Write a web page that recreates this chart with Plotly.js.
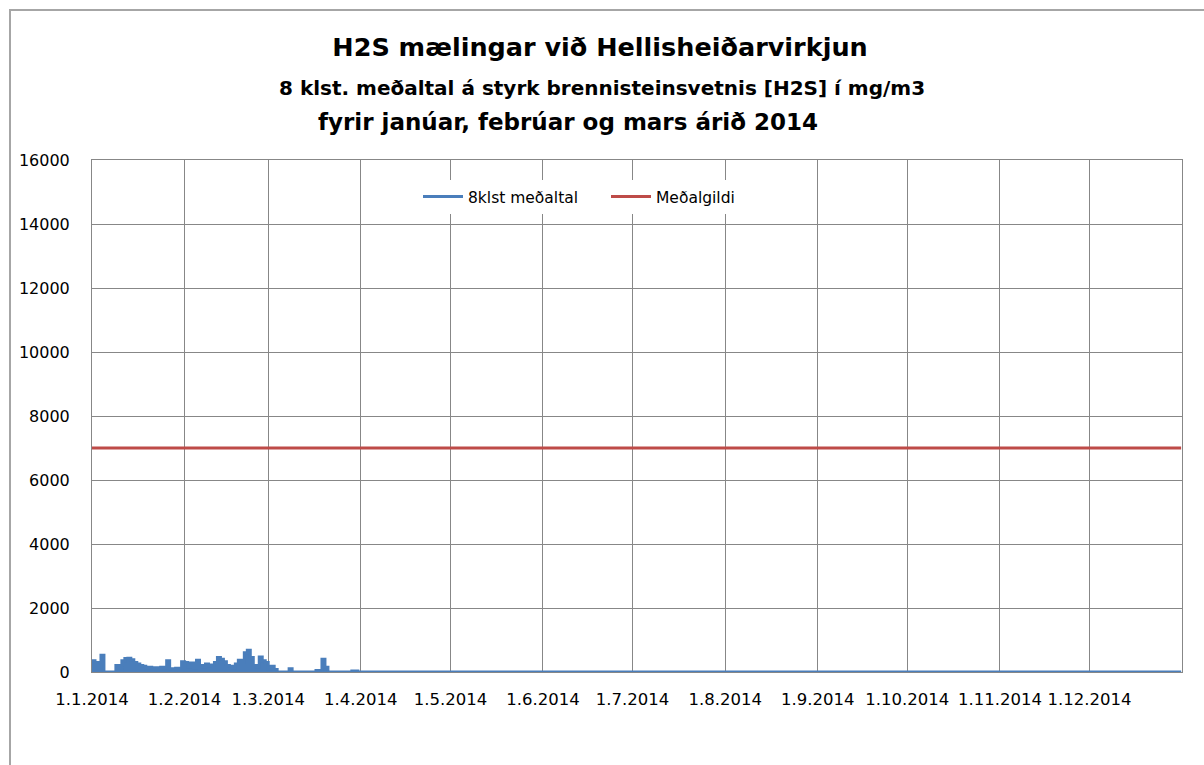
<!DOCTYPE html>
<html>
<head>
<meta charset="utf-8">
<script src="https://cdn.plot.ly/plotly-3.0.1.min.js"></script>
<style>html,body{margin:0;padding:0;background:#fff;}#chart{width:1204px;height:765px;}</style>
</head>
<body>
<div id="chart"></div>
<script>
// Daily 8-hour average H2S readings starting 2014-01-01 (one value per day)
const startDate = '2014-01-01';
const dailyValues = [
  350, 280, 300, 520, 0, 0, 0, 0, 200, 50,
  350, 420, 430, 380, 300, 250, 200, 180, 120, 150,
  80, 130, 60, 150, 120, 350, 100, 80, 120, 60,
  320, 300, 150, 280, 120, 370, 200, 150, 250, 180,
  220, 300, 450, 400, 320, 200, 180, 120, 250, 370,
  300, 600, 680, 450, 200, 150, 470, 350, 300, 100,
  180, 80, 0, 0, 0, 0, 100, 0, 0, 0,
  0, 0, 0, 0, 0, 50, 50, 400, 150, 0,
  0, 0, 0, 0, 0, 0, 0, 30, 30, 0, 0
];
const lastDate = '2014-12-31 16:00';
const lastValue = 0;

const meanDates = ['2014-01-01', '2014-12-31 16:00'];
const meanValues = [7000, 7000];

const seriesNames = ['8klst meðaltal', 'Meðalgildi'];
const titleLines = [
  'H2S mælingar við Hellisheiðarvirkjun',
  '8 klst. meðaltal á styrk brennisteinsvetnis [H2S] í mg/m3',
  'fyrir janúar, febrúar og mars árið 2014'
];

// build date labels for the daily values
const dates = [];
const d0 = new Date(startDate + 'T00:00:00Z');
for (let i = 0; i < dailyValues.length; i++) {
  const d = new Date(d0.getTime() + i * 86400000);
  dates.push(d.toISOString().slice(0, 10));
}
const xs = dates.concat([lastDate]);
const ys = dailyValues.concat([lastValue]);

const blue = '#4a7ebb';
const red = '#be4b48';
const grid = '#878787';
const fontFam = '"DejaVu Sans", sans-serif';

const traces = [
  {x: xs, y: ys, type: 'scatter', mode: 'lines', line: {color: blue, width: 1, shape: 'hv'},
   fill: 'tozeroy', fillcolor: blue, showlegend: false, hoverinfo: 'skip'},
  {x: xs, y: ys, type: 'scatter', mode: 'lines', name: seriesNames[0],
   line: {color: blue, width: 3, shape: 'hv'}},
  {x: meanDates, y: meanValues, type: 'scatter', mode: 'lines', name: seriesNames[1],
   line: {color: red, width: 3}}
];

const L = 92, R = 1182, T = 160, B = 672;
const px = v => (v - L) / (R - L);
const py = v => (B - v) / (B - T);

const layout = {
  width: 1204, height: 765,
  margin: {l: L, r: 1204 - R, t: T, b: 765 - B},
  paper_bgcolor: '#fff', plot_bgcolor: '#fff',
  font: {family: fontFam, color: '#000', size: 13},
  title: {text: '<b>' + titleLines[0] + '</b>', font: {size: 25.5, family: fontFam},
          x: px(600), xanchor: 'center', y: 1 - 47/765, yanchor: 'middle', xref: 'paper'},
  annotations: [
    {text: '<b>' + titleLines[1] + '</b>', xref: 'paper', yref: 'paper', x: px(602), y: py(88),
     xanchor: 'center', yanchor: 'middle', showarrow: false, font: {size: 20, family: fontFam}},
    {text: '<b>' + titleLines[2] + '</b>', xref: 'paper', yref: 'paper', x: px(568), y: py(122),
     xanchor: 'center', yanchor: 'middle', showarrow: false, font: {size: 23, family: fontFam}}
  ],
  xaxis: {
    type: 'date', range: ['2014-01-01', '2014-12-31 23:00'],
    tick0: '2014-01-01', dtick: 'M1', tickformat: '%-d.%-m.%Y', tickangle: 0,
    showgrid: true, gridcolor: grid, gridwidth: 1,
    showline: true, linecolor: grid, linewidth: 1, mirror: true,
    ticks: '', zeroline: false, ticklabelstandoff: 12,
    tickfont: {size: 16.5, family: fontFam}
  },
  yaxis: {
    range: [0, 16000], dtick: 2000, tickformat: 'd',
    showgrid: true, gridcolor: grid, gridwidth: 1,
    showline: true, linecolor: grid, linewidth: 1, mirror: true,
    ticks: '', zeroline: false, ticklabelstandoff: 18,
    tickfont: {size: 16, family: fontFam}
  },
  legend: {orientation: 'h', x: px(418), y: py(197), xanchor: 'left', yanchor: 'middle',
           bgcolor: '#fff', font: {size: 15.5, family: fontFam}, itemwidth: 40, tracegroupgap: 0,
           entrywidth: 133, entrywidthmode: 'pixels'},
  shapes: [
    {type: 'line', xref: 'paper', yref: 'paper', x0: px(10), x1: px(10), y0: py(9), y1: py(765),
     line: {color: '#a6a6a6', width: 2}},
    {type: 'line', xref: 'paper', yref: 'paper', x0: px(9), x1: px(1204), y0: py(10), y1: py(10),
     line: {color: '#a6a6a6', width: 2}}
  ],
  showlegend: true
};

Plotly.newPlot('chart', traces, layout, {displayModeBar: false, staticPlot: true});
</script>
</body>
</html>
